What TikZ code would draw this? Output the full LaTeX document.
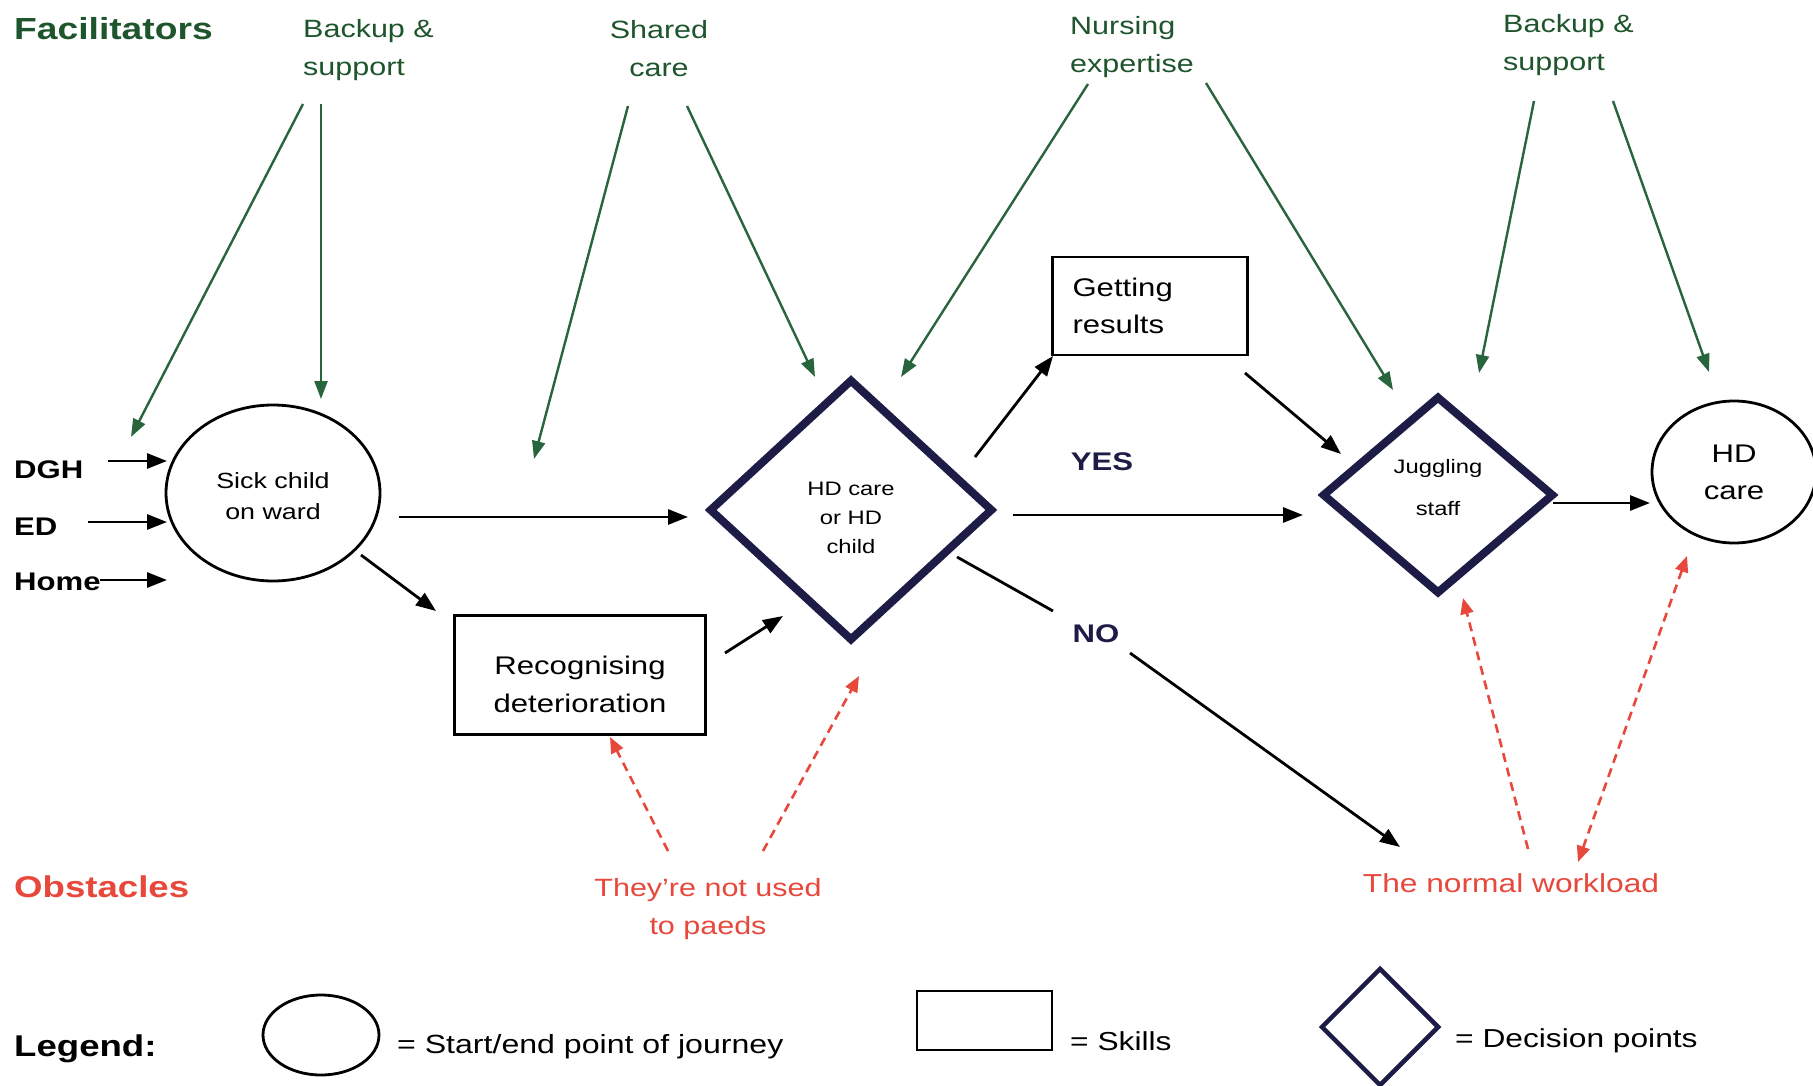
\documentclass[tikz,border=0pt]{standalone}
\usepackage{fontspec}
\newfontfamily\arl[FakeStretch=1.22]{Liberation Sans}
\usetikzlibrary{arrows.meta,shapes.geometric}
\definecolor{fgreen}{RGB}{30,85,45}
\definecolor{agreen}{RGB}{40,100,60}
\definecolor{navy}{RGB}{28,28,70}
\definecolor{ored}{RGB}{232,72,60}
\begin{document}
\begin{tikzpicture}[x=1pt,y=-1pt,
  txt/.style={inner sep=0pt, font=\arl\fontsize{25}{38}\selectfont},
  gtxt/.style={txt, text=fgreen},
  rtxt/.style={txt, text=ored},
  arr/.style={line width=2.8pt, -{Triangle[length=20pt,width=15pt]}},
  plain/.style={line width=2.8pt},
  garr/.style={draw=agreen, line width=2.4pt, -{Triangle[length=18pt,width=13pt,fill=agreen]}},
  rarr/.style={draw=ored, line width=2.6pt, dash pattern=on 9pt off 6pt, -{Triangle[length=16pt,width=13pt,fill=ored]}},
  rarrb/.style={rarr, {Triangle[length=16pt,width=13pt,fill=ored]}-{Triangle[length=16pt,width=13pt,fill=ored]}},
  dia/.style={diamond, draw=navy, line width=8pt, inner sep=0pt, align=center},
  ell/.style={ellipse, draw, line width=2.8pt, inner sep=0pt, align=center},
  box/.style={rectangle, draw, line width=2.6pt, inner sep=0pt}]
\useasboundingbox (0,0) rectangle (1813,1086);
\fill[white] (0,0) rectangle (1813,1086);

% headings
\node[txt, anchor=base west, text=fgreen, font=\arl\bfseries\fontsize{30.5}{38}\selectfont] (fac) at (14,40) {Facilitators};
\node[txt, anchor=base west, text=ored, font=\arl\bfseries\fontsize{30}{38}\selectfont] (obs) at (14,897) {Obstacles};
\node[txt, anchor=base west, font=\arl\bfseries\fontsize{30}{38}\selectfont] (leg) at (14,1056) {Legend:};

% facilitator labels (base = last line)
\node[gtxt, anchor=base west, align=left] (bs1) at (303,76) {Backup \&\\support};
\node[gtxt, anchor=base, align=center] (sh) at (659,77) {Shared\\care};
\node[gtxt, anchor=base west, align=left] (nu) at (1070,73) {Nursing\\expertise};
\node[gtxt, anchor=base west, align=left] (bs2) at (1503,71) {Backup \&\\support};

% obstacle labels
\node[rtxt, anchor=base, align=center] (tn) at (708,934) {They’re not used\\to paeds};
\node[rtxt, anchor=base, font=\arl\fontsize{26}{38}\selectfont] (wl) at (1511,892) {The normal workload};

% entry labels
\node[txt, anchor=base west, font=\arl\bfseries\fontsize{25.5}{38}\selectfont] (dgh) at (14,478) {DGH};
\node[txt, anchor=base west, font=\arl\bfseries\fontsize{25.5}{38}\selectfont] (ed) at (14,535) {ED};
\node[txt, anchor=base west, font=\arl\bfseries\fontsize{25.5}{38}\selectfont] (home) at (14,590) {Home};

% main nodes
\node[ell, minimum width=214, minimum height=176, font=\arl\fontsize{22}{31}\selectfont, text height=52pt, text depth=0pt] (sick) at (273,493) {Sick child\\on ward};
\node[dia, minimum width=284, minimum height=262, font=\arl\fontsize{19.5}{29}\selectfont, text height=86pt, text depth=0pt] (hd) at (851,510) {HD care\\or HD\\child};
\node[box, minimum width=251, minimum height=119, align=center, font=\arl\fontsize{25.5}{38}\selectfont, text height=74pt, text depth=0pt] (rec) at (580,675) {Recognising\\deterioration};
\node[box, text width=155, inner xsep=20pt, minimum height=98, align=left, font=\arl\fontsize{25.5}{37}\selectfont] (get) at (1150,306) {Getting\\results};
\node[dia, minimum width=232, minimum height=198, font=\arl\fontsize{19.5}{42}\selectfont, text height=40pt, text depth=0pt] (jug) at (1438,495) {Juggling\\staff};
\node[ell, minimum width=164, minimum height=142, font=\arl\fontsize{25.5}{37}\selectfont] (endc) at (1734,472) {HD\\care};

\node[txt, anchor=base, text=navy, font=\arl\bfseries\fontsize{25.5}{38}\selectfont] (yes) at (1102,470) {YES};
\node[txt, anchor=base, text=navy, font=\arl\bfseries\fontsize{25.5}{38}\selectfont] (no) at (1096,642) {NO};

% legend
\node[ell, minimum width=116, minimum height=80] (lell) at (321,1035) {};
\node[txt, anchor=base west, font=\arl\fontsize{26.3}{38}\selectfont] (lt1) at (397,1053) {= Start/end point of journey};
\node[box, minimum width=135, minimum height=59] (lbox) at (984.5,1020.5) {};
\node[txt, anchor=base west, font=\arl\fontsize{26}{38}\selectfont] (lt2) at (1070,1050) {= Skills};
\node[diamond, draw=navy, line width=4.5pt, inner sep=0pt, minimum width=118, minimum height=118] (ldia) at (1380,1027) {};
\node[txt, anchor=base west, font=\arl\fontsize{26}{38}\selectfont] (lt3) at (1455,1047) {= Decision points};

% green facilitator arrows
\draw[garr] ([shift={(0,28)}]bs1.base west) -- ([shift={(-142,-56)}]sick.center);
\draw[garr] ([shift={(18,28)}]bs1.base west) -- ([shift={(48,-94)}]sick.center);
\draw[garr] ([shift={(-31,29)}]sh.base) -- ([shift={(-317,-51)}]hd.center);
\draw[garr] ([shift={(28,29)}]sh.base) -- ([shift={(-36,-133)}]hd.center);
\draw[garr] ([shift={(18,11)}]nu.base west) -- ([shift={(50,-133)}]hd.center);
\draw[garr] ([shift={(136,10)}]nu.base west) -- ([shift={(-45,-105)}]jug.center);
\draw[garr] ([shift={(31,30)}]bs2.base west) -- ([shift={(41,-122)}]jug.center);
\draw[garr] ([shift={(110,30)}]bs2.base west) -- ([shift={(-25,-100)}]endc.center);

% black flow arrows
\draw[arr] ([shift={(94,-17)}]dgh.base west) -- ([shift={(-106,-32)}]sick.center);
\draw[arr] ([shift={(74,-13)}]ed.base west) -- ([shift={(-106,29)}]sick.center);
\draw[arr] ([shift={(86,-10)}]home.base west) -- ([shift={(-106,87)}]sick.center);
\draw[arr] ([shift={(126,24)}]sick.center) -- ([shift={(-163,7)}]hd.center);
\draw[arr] ([shift={(88,62)}]sick.center) -- ([shift={(-144,-64)}]rec.center);
\draw[arr] ([shift={(145,-22)}]rec.center) -- ([shift={(-68,106)}]hd.center);
\draw[arr] ([shift={(124,-53)}]hd.center) -- ([shift={(-97,50)}]get.center);
\draw[arr] ([shift={(162,5)}]hd.center) -- ([shift={(-135,20)}]jug.center);
\draw[plain] ([shift={(106,47)}]hd.center) -- ([shift={(-43,-31)}]no.base);
\draw[arr] ([shift={(34,11)}]no.base) -- ([shift={(-111,-45)}]wl.base);
\draw[arr] ([shift={(95,67)}]get.center) -- ([shift={(-97,-41)}]jug.center);
\draw[arr] ([shift={(115,8)}]jug.center) -- ([shift={(-84,31)}]endc.center);

% red obstacle arrows
\draw[rarr] ([shift={(-40,-83)}]tn.base) -- ([shift={(30,62)}]rec.center);
\draw[rarr] ([shift={(55,-83)}]tn.base) -- ([shift={(8,166)}]hd.center);
\draw[rarr] ([shift={(17,-43)}]wl.base) -- ([shift={(25,103)}]jug.center);
\draw[rarrb] ([shift={(67,-30)}]wl.base) -- ([shift={(-47,84)}]endc.center);
\end{tikzpicture}
\end{document}
